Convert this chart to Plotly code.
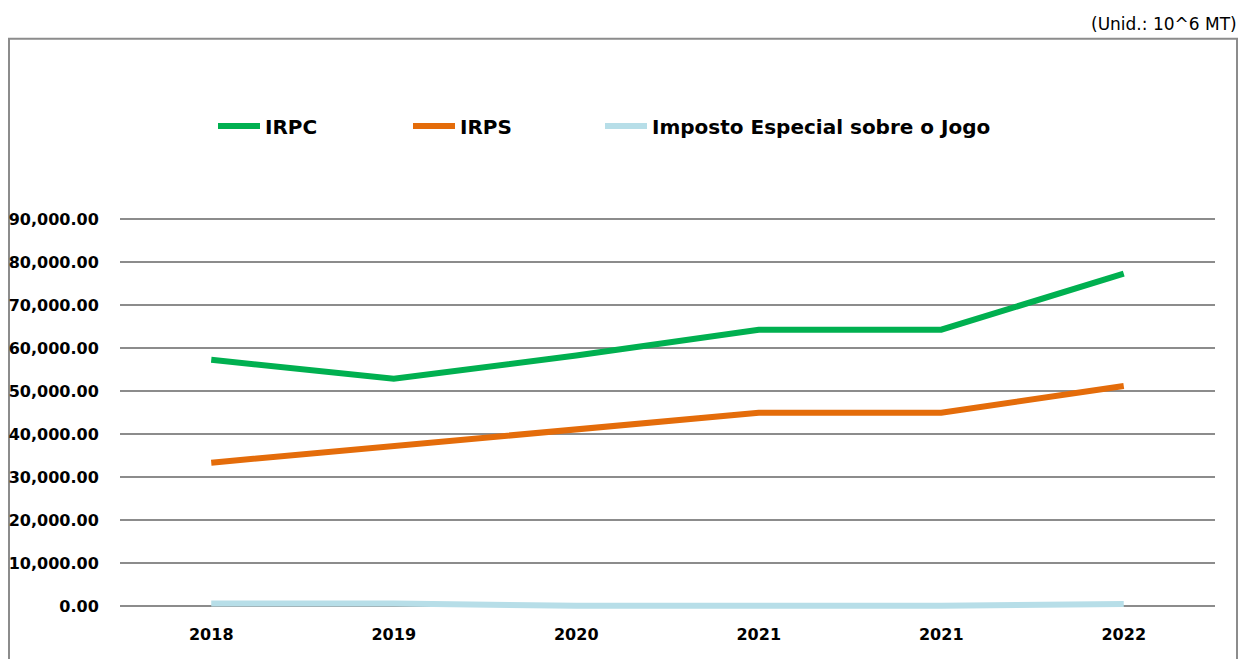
import plotly.graph_objects as go

categories = ["2018", "2019", "2020", "2021", "2021", "2022"]
irpc = [57300, 52900, 58300, 64300, 64300, 77300]
irps = [33400, 37300, 41200, 45000, 45000, 51200]
jogo = [700, 700, 150, 150, 150, 600]
y_ticks = [0, 10000, 20000, 30000, 40000, 50000, 60000, 70000, 80000, 90000]

W, H = 1247, 659
xpos = list(range(len(categories)))

series = [
    ("IRPC", irpc, "#00B050", "legend", 213),
    ("IRPS", irps, "#E46C0A", "legend2", 408),
    ("Imposto Especial sobre o Jogo", jogo, "#B7DEE8", "legend3", 600),
]

FONT = "'DejaVu Sans', sans-serif"

fig = go.Figure()
for name, vals, col, lg, _ in series:
    fig.add_trace(go.Scatter(x=xpos, y=vals, name=name, mode="lines", legend=lg,
                             line=dict(color=col, width=6)))

legend_common = dict(orientation="h", yanchor="middle", y=1 - 122 / H, xanchor="left",
                     itemwidth=42, bgcolor="rgba(0,0,0,0)",
                     font=dict(family=FONT, size=20, color="black", weight="bold"))
legends = {}
for name, vals, col, lg, lx in series:
    legends[lg] = dict(legend_common, x=lx / W)

# y domain: 0 at px 607, 90000 at px 216
ppu = (607 - 216) / 90000
ymin, ymax = -2000, 91000
bottom_px = 607 - ymin * ppu
top_px = 607 - ymax * ppu
fig.update_layout(
    width=W, height=H,
    margin=dict(l=0, r=0, t=0, b=0),
    paper_bgcolor="white", plot_bgcolor="white",
    showlegend=True,
    xaxis=dict(domain=[120 / W, 1215 / W], range=[-0.5, 5.5], tickmode="array",
               tickvals=xpos, ticktext=categories, showgrid=False, zeroline=False,
               showline=False, ticks="outside", ticklen=5, tickcolor="rgba(0,0,0,0)",
               tickfont=dict(family=FONT, size=16, color="black", weight="bold")),
    yaxis=dict(domain=[1 - bottom_px / H, 1 - top_px / H], range=[ymin, ymax],
               tickmode="array", tickvals=y_ticks,
               ticktext=[f"{v:,.2f}" for v in y_ticks],
               showgrid=True, gridcolor="#8C8C8C", gridwidth=2, zeroline=False,
               showline=False, ticks="outside", ticklen=17, tickcolor="rgba(0,0,0,0)",
               tickfont=dict(family=FONT, size=16, color="black", weight="bold")),
    shapes=[dict(type="rect", xref="paper", yref="paper",
                 x0=9 / W, x1=1237 / W, y0=-0.05, y1=1 - 34 / H,
                 line=dict(color="#8C8C8C", width=2), fillcolor="rgba(0,0,0,0)", layer="below")],
    annotations=[dict(text="(Unid.: 10^6 MT)", xref="paper", yref="paper",
                      x=1239 / W, y=1 - 19 / H, xanchor="right", yanchor="middle",
                      showarrow=False,
                      font=dict(family=FONT, size=17, color="black"))],
    **legends,
)

fig.write_html("out.html", config={"displayModeBar": False},
               post_script="document.body.style.margin='0';document.body.style.padding='0';")
